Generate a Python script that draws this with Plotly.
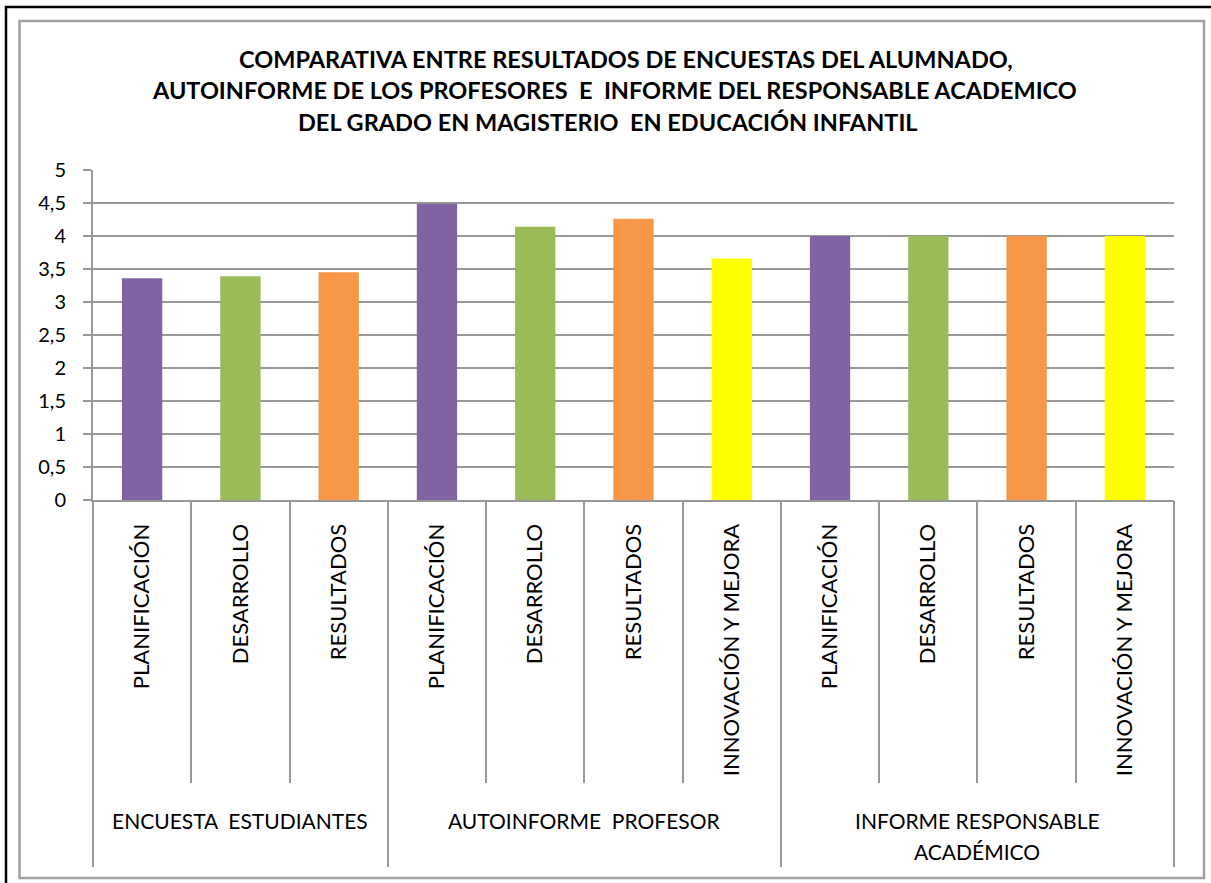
import plotly.graph_objects as go

# ---------------- data ----------------
groups = ["ENCUESTA  ESTUDIANTES", "AUTOINFORME  PROFESOR", "INFORME RESPONSABLE<br>ACADÉMICO"]
group_sizes = [3, 4, 4]
categories = [
    "PLANIFICACIÓN", "DESARROLLO", "RESULTADOS",
    "PLANIFICACIÓN", "DESARROLLO", "RESULTADOS", "INNOVACIÓN Y MEJORA",
    "PLANIFICACIÓN", "DESARROLLO", "RESULTADOS", "INNOVACIÓN Y MEJORA",
]
values = [3.36, 3.39, 3.45, 4.49, 4.14, 4.26, 3.66, 4.0, 4.0, 4.0, 4.0]
y_ticks = [0, 0.5, 1, 1.5, 2, 2.5, 3, 3.5, 4, 4.5, 5]
title_lines = [
    "COMPARATIVA ENTRE RESULTADOS DE ENCUESTAS DEL ALUMNADO,",
    "AUTOINFORME DE LOS PROFESORES  E  INFORME DEL RESPONSABLE ACADEMICO",
    "DEL GRADO EN MAGISTERIO  EN EDUCACIÓN INFANTIL",
]

color_map = {
    "PLANIFICACIÓN": "#8064A2",
    "DESARROLLO": "#9BBB59",
    "RESULTADOS": "#F79646",
    "INNOVACIÓN Y MEJORA": "#FFFF00",
}

# ---------------- layout geometry ----------------
W, H = 1211, 883
L, R, T, B = 93, 37, 170, 383
PW, PH = W - L - R, H - T - B
FONT = "Lato"
GRAY = "#989898"
TITLE_X = [626, 614, 608]
TITLE_Y = [59, 90, 122]


def px2x(px):
    return (px - L) / PW


def px2y(py):
    return (H - B - py) / PH


n = len(categories)
xs = list(range(n))
bounds = [i - 0.5 for i in range(n + 1)]
gb = [-0.5]
for s in group_sizes:
    gb.append(gb[-1] + s)
group_centers = [(gb[i] + gb[i + 1]) / 2 for i in range(len(group_sizes))]

fig = go.Figure()
fig.add_trace(go.Bar(
    x=xs, y=values, width=0.41,
    marker=dict(color=[color_map[c] for c in categories], line=dict(width=0)),
    hoverinfo="y", showlegend=False,
))

fig.update_layout(
    width=W, height=H,
    margin=dict(l=L, r=R, t=T, b=B, pad=0),
    paper_bgcolor="white", plot_bgcolor="white",
    separators=",.",
    font=dict(family=FONT, color="black"),
    showlegend=False,
    xaxis=dict(
        range=[-0.5, n - 0.5], tickmode="array", tickvals=xs, ticktext=categories,
        tickangle=-90, ticks="", showgrid=False, zeroline=False,
        showline=True, linecolor=GRAY, linewidth=2,
        tickfont=dict(family=FONT, size=22, color="black"),
        ticklabelstandoff=13, fixedrange=True,
    ),
    xaxis2=dict(
        overlaying="x", anchor="y", side="bottom", matches="x",
        range=[-0.5, n - 0.5], tickmode="array", tickvals=bounds,
        ticks="outside", ticklen=282, tickwidth=2, tickcolor=GRAY,
        showticklabels=False, showgrid=False, zeroline=False, showline=False,
    ),
    xaxis3=dict(
        overlaying="x", anchor="y", side="bottom", matches="x",
        range=[-0.5, n - 0.5], tickmode="array", tickvals=gb,
        ticks="outside", ticklen=366, tickwidth=2, tickcolor=GRAY,
        showticklabels=False, showgrid=False, zeroline=False, showline=False,
    ),
    yaxis=dict(
        range=[0, 5], tickmode="array", tickvals=y_ticks,
        ticktext=[f"{v:g}".replace(".", ",") for v in y_ticks],
        ticks="outside", ticklen=8, tickwidth=2, tickcolor=GRAY,
        showgrid=True, gridcolor=GRAY, gridwidth=1.5,
        zeroline=False, showline=True, linecolor=GRAY, linewidth=2,
        tickfont=dict(family=FONT, size=20, color="black"),
        ticklabelstandoff=13, fixedrange=True,
    ),
)

# invisible traces so the overlay axes are drawn
fig.add_trace(go.Scatter(x=[None], y=[None], xaxis="x2", yaxis="y", showlegend=False, hoverinfo="skip"))
fig.add_trace(go.Scatter(x=[None], y=[None], xaxis="x3", yaxis="y", showlegend=False, hoverinfo="skip"))

# frames
fig.add_shape(type="rect", xref="paper", yref="paper",
              x0=px2x(19.5), x1=px2x(1204), y0=px2y(878), y1=px2y(21),
              line=dict(color="#a0a0a0", width=2.5), fillcolor="rgba(0,0,0,0)", layer="below")
fig.add_shape(type="rect", xref="paper", yref="paper",
              x0=px2x(6), x1=px2x(1220), y0=px2y(895), y1=px2y(7),
              line=dict(color="black", width=2.5), fillcolor="rgba(0,0,0,0)", layer="below")

# title
for line, tx, ty in zip(title_lines, TITLE_X, TITLE_Y):
    fig.add_annotation(
        text=line, xref="paper", yref="paper", x=px2x(tx), y=px2y(ty),
        xanchor="center", yanchor="middle", showarrow=False,
        font=dict(family=FONT, size=23.5, color="black", weight="bold"),
    )

# group labels (one annotation per text line)
for gname, gc in zip(groups, group_centers):
    for j, part in enumerate(gname.split("<br>")):
        fig.add_annotation(
            text=part, xref="x", yref="paper", x=gc, y=px2y(820 + 32 * j),
            xanchor="center", yanchor="middle", showarrow=False,
            font=dict(family=FONT, size=21, color="black"),
        )

fig.write_html(
    "out.html",
    config={"displayModeBar": False},
    post_script="document.body.style.margin='0px';document.body.style.overflow='hidden';",
)
